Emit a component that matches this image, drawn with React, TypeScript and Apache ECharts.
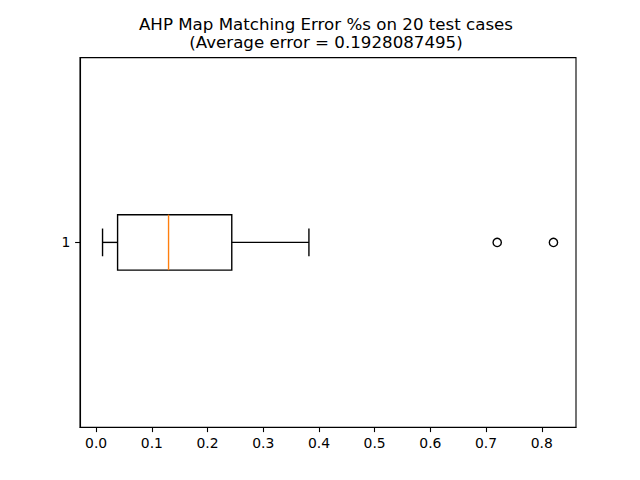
import React, { useEffect, useRef } from "react";
import * as echarts from "echarts";

const titleLines = [
  "AHP Map Matching Error %s on 20 test cases",
  "(Average error = 0.1928087495)",
];
const categories = ["1"];
// [lowWhisker, Q1, median, Q3, highWhisker]
const boxStats = [[0.0115, 0.0385, 0.13, 0.2435, 0.382]];
const outliers = [0.72, 0.821];
const xTicks = [0, 0.1, 0.2, 0.3, 0.4, 0.5, 0.6, 0.7, 0.8];

const FONT = "DejaVu Sans";

export default function App() {
  const ref = useRef<HTMLDivElement>(null);
  useEffect(() => {
    if (!ref.current) return;
    const chart = echarts.init(ref.current, undefined, { renderer: "svg" });
    const allVals = [...boxStats.flat(), ...outliers];
    const dMin = Math.min(...allVals);
    const dMax = Math.max(...allVals);
    const pad = (dMax - dMin) * 0.05;

    const lw = 1.39;
    chart.setOption({
      animation: false,
      backgroundColor: "#fff",
      graphic: [
        {
          type: "text",
          x: 326,
          y: 33.6,
          style: {
            text: titleLines.join("\n"),
            font: `16.67px "${FONT}"`,
            lineHeight: 17.4,
            fill: "#000",
            textAlign: "center",
            textVerticalAlign: "middle",
          },
        },
      ],
      grid: {
        left: 80,
        right: 64,
        top: 57.6,
        bottom: 52.8,
        show: true,
        borderColor: "#000",
        borderWidth: 1.1,
        backgroundColor: "transparent",
      },
      xAxis: {
        type: "value",
        min: dMin - pad,
        max: dMax + pad,
        splitLine: { show: false },
        axisLine: { show: true, onZero: false, lineStyle: { color: "#000", width: 1.1 } },
        axisTick: {
          show: true,
          customValues: xTicks,
          length: 4.9,
          lineStyle: { color: "#000", width: 1.1 },
        },
        axisLabel: {
          customValues: xTicks,
          formatter: (v: number) => v.toFixed(1),
          fontFamily: FONT,
          fontSize: 13.9,
          color: "#000",
          margin: 8.8,
        },
      },
      yAxis: {
        type: "category",
        data: categories,
        splitLine: { show: false },
        axisLine: { show: true, onZero: false, lineStyle: { color: "#000", width: 1.1 } },
        axisTick: {
          show: true,
          alignWithLabel: true,
          length: 4.9,
          lineStyle: { color: "#000", width: 1.1 },
        },
        axisLabel: {
          fontFamily: FONT,
          fontSize: 13.9,
          color: "#000",
          margin: 9.7,
        },
      },
      series: [
        {
          type: "custom",
          data: boxStats.map((s, i) => [...s, i]),
          encode: { x: [0, 1, 2, 3, 4], y: 5 },
          renderItem: (params: any, api: any) => {
            const cat = api.value(5);
            const lo = api.coord([api.value(0), cat]);
            const q1 = api.coord([api.value(1), cat]);
            const md = api.coord([api.value(2), cat]);
            const q3 = api.coord([api.value(3), cat]);
            const hi = api.coord([api.value(4), cat]);
            const band = api.size([0, 1])[1];
            const bh = band * 0.15;
            const ch = band * 0.075;
            const cy = lo[1];
            const stroke = { stroke: "#000", lineWidth: lw, fill: null };
            return {
              type: "group",
              children: [
                { type: "line", shape: { x1: lo[0], y1: cy, x2: q1[0], y2: cy }, style: stroke },
                { type: "line", shape: { x1: q3[0], y1: cy, x2: hi[0], y2: cy }, style: stroke },
                { type: "line", shape: { x1: lo[0], y1: cy - ch / 2, x2: lo[0], y2: cy + ch / 2 }, style: stroke },
                { type: "line", shape: { x1: hi[0], y1: cy - ch / 2, x2: hi[0], y2: cy + ch / 2 }, style: stroke },
                {
                  type: "rect",
                  shape: { x: q1[0], y: cy - bh / 2, width: q3[0] - q1[0], height: bh },
                  style: { stroke: "#000", lineWidth: lw, fill: "none" },
                },
                {
                  type: "line",
                  shape: { x1: md[0], y1: cy - bh / 2, x2: md[0], y2: cy + bh / 2 },
                  style: { stroke: "#ff7f0e", lineWidth: lw },
                },
              ],
            };
          },
          z: 3,
        },
        {
          type: "scatter",
          data: outliers.map((v) => [v, 0]),
          symbol: "circle",
          symbolSize: 8.3,
          itemStyle: { color: "#fff", borderColor: "#000", borderWidth: 1.39, opacity: 1 },
          z: 4,
        },
      ],
    });
    return () => chart.dispose();
  }, []);
  return (
    <div
      ref={ref}
      style={{ position: "fixed", left: 0, top: 0, width: 640, height: 480 }}
    />
  );
}
